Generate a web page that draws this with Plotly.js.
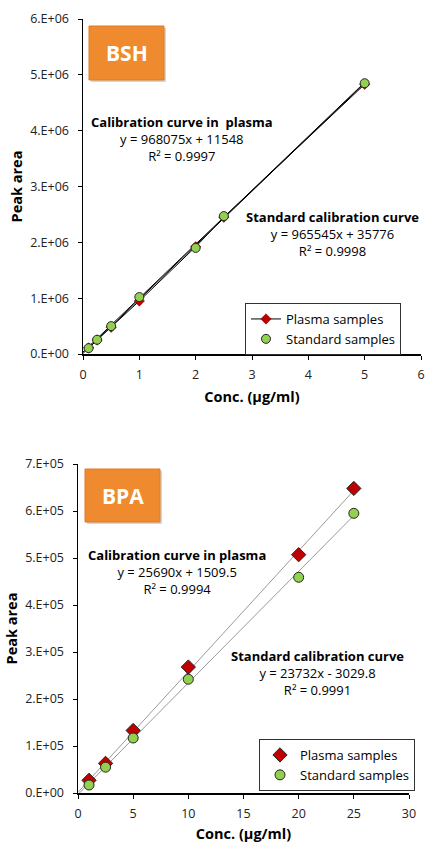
<!DOCTYPE html>
<html><head><meta charset="utf-8">
<script src="https://cdn.plot.ly/plotly-3.0.1.min.js"></script>
<style>html,body{margin:0;padding:0;background:#fff}#c{width:427px;height:843px}</style>
</head><body><div id="c"></div>
<script>
// ---- BSH data ----
const bshConc = [0.1, 0.25, 0.5, 1, 2, 2.5, 5];
const bshPlasma = [110000, 250000, 480000, 950000, 1920000, 2450000, 4830000];
const bshStandard = [105000, 255000, 500000, 1020000, 1900000, 2470000, 4850000];
const bshFitRange = [0, 5];
const bshPlasmaFit = {slope: 968075, intercept: 11548};
const bshStandardFit = {slope: 965545, intercept: 35776};
const bshYTicks = [0, 1e6, 2e6, 3e6, 4e6, 5e6, 6e6];
const bshYTickText = ['0.E+00','1.E+06','2.E+06','3.E+06','4.E+06','5.E+06','6.E+06'];
const bshXTicks = [0,1,2,3,4,5,6];

// ---- BPA data ----
const bpaConc = [1, 2.5, 5, 10, 20, 25];
const bpaPlasma = [27000, 63000, 133000, 268000, 507000, 648000];
const bpaStandard = [17000, 55000, 117000, 242000, 459000, 595000];
const bpaFitRange = [0, 25];
const bpaPlasmaFit = {slope: 25690, intercept: 1509.5};
const bpaStandardFit = {slope: 23732, intercept: -3029.8};
const bpaYTicks = [0, 1e5, 2e5, 3e5, 4e5, 5e5, 6e5, 7e5];
const bpaYTickText = ['0.E+00','1.E+05','2.E+05','3.E+05','4.E+05','5.E+05','6.E+05','7.E+05'];
const bpaXTicks = [0,5,10,15,20,25,30];

const W = 427, H = 843;
const px = x => x / W, py = y => 1 - y / H;
const FONT = 'Open Sans, Liberation Sans, sans-serif';
const fitY = (f, xs) => xs.map(x => f.slope * x + f.intercept);
const red = '#C00000', green = '#92D050', edge = '#262626';

const traces = [
  {x: bshFitRange, y: fitY(bshPlasmaFit, bshFitRange), xaxis:'x', yaxis:'y', mode:'lines', line:{color:'#000', width:1}, showlegend:false, hoverinfo:'skip'},
  {x: bshFitRange, y: fitY(bshStandardFit, bshFitRange), xaxis:'x', yaxis:'y', mode:'lines', line:{color:'#000', width:1}, showlegend:false, hoverinfo:'skip'},
  {x: bshConc, y: bshPlasma, xaxis:'x', yaxis:'y', name:'Plasma samples', mode:'lines+markers', line:{color:'#000', width:1},
   marker:{symbol:'diamond', size:8, color:red, line:{color:'#600', width:0.5}}, legend:'legend'},
  {x: bshConc, y: bshStandard, xaxis:'x', yaxis:'y', name:'Standard samples', mode:'markers',
   marker:{symbol:'circle', size:9, color:green, line:{color:edge, width:1}}, legend:'legend'},

  {x: bpaFitRange, y: fitY(bpaPlasmaFit, bpaFitRange), xaxis:'x2', yaxis:'y2', mode:'lines', line:{color:'#999', width:1}, showlegend:false, hoverinfo:'skip'},
  {x: bpaFitRange, y: fitY(bpaStandardFit, bpaFitRange), xaxis:'x2', yaxis:'y2', mode:'lines', line:{color:'#999', width:1}, showlegend:false, hoverinfo:'skip'},
  {x: bpaConc, y: bpaPlasma, xaxis:'x2', yaxis:'y2', name:'Plasma samples', mode:'markers',
   marker:{symbol:'diamond', size:11, color:red, line:{color:edge, width:1}}, legend:'legend2'},
  {x: bpaConc, y: bpaStandard, xaxis:'x2', yaxis:'y2', name:'Standard samples', mode:'markers',
   marker:{symbol:'circle', size:10, color:green, line:{color:edge, width:1}}, legend:'legend2'}
];

const axBase = {showgrid:false, zeroline:false, showline:true, linecolor:'#000', linewidth:1.5,
  ticks:'outside', ticklen:4, tickcolor:'#000', ticklabelstandoff:6,
  tickfont:{family:FONT, size:12.5, color:'#222'}, fixedrange:true};
const titleFont = {family:FONT, size:14.5, color:'#000', weight:'bold'};

const layout = {
  width: W, height: H, margin:{l:0, r:0, t:0, b:0},
  paper_bgcolor:'#fff', plot_bgcolor:'rgba(0,0,0,0)',
  xaxis: Object.assign({}, axBase, {domain:[px(83), px(421)], anchor:'y', range:[0,6], tickvals:bshXTicks, ticklabelstandoff:4,
    title:{text:'<b>Conc. (μg/ml)</b>', font:titleFont, standoff:10}}),
  yaxis: Object.assign({}, axBase, {domain:[py(354), py(19)], anchor:'x', range:[0,6e6], tickvals:bshYTicks, ticktext:bshYTickText,
    title:{text:'<b>Peak area</b>', font:titleFont, standoff:4}}),
  xaxis2: Object.assign({}, axBase, {domain:[px(78), px(409)], anchor:'y2', range:[0,30], tickvals:bpaXTicks, ticklabelstandoff:4,
    title:{text:'<b>Conc. (μg/ml)</b>', font:titleFont, standoff:10}}),
  yaxis2: Object.assign({}, axBase, {domain:[py(793), py(464)], anchor:'x2', range:[0,7e5], tickvals:bpaYTicks, ticktext:bpaYTickText,
    title:{text:'<b>Peak area</b>', font:titleFont, standoff:4}}),
  legend: {x:px(245), y:py(303), xanchor:'left', yanchor:'top', bordercolor:'#333', borderwidth:1, bgcolor:'#fff',
    font:{family:FONT, size:13, color:'#000'}, tracegroupgap:0, itemwidth:30},
  legend2: {x:px(259), y:py(739), xanchor:'left', yanchor:'top', bordercolor:'#333', borderwidth:1, bgcolor:'#fff',
    font:{family:FONT, size:13, color:'#000'}, tracegroupgap:0, itemwidth:30},
  shapes: [
    {type:'rect', xref:'paper', yref:'paper', x0:px(91), x1:px(166), y0:py(82), y1:py(28), fillcolor:'#bbb', line:{width:0}, opacity:0.6},
    {type:'rect', xref:'paper', yref:'paper', x0:px(89), x1:px(164), y0:py(80), y1:py(26), fillcolor:'#F08A2E', line:{color:'#E07A20', width:1}},
    {type:'rect', xref:'paper', yref:'paper', x0:px(87), x1:px(162), y0:py(524), y1:py(471), fillcolor:'#bbb', line:{width:0}, opacity:0.6},
    {type:'rect', xref:'paper', yref:'paper', x0:px(85), x1:px(160), y0:py(522), y1:py(469), fillcolor:'#F08A2E', line:{color:'#E07A20', width:1}}
  ],
  annotations: [
    {xref:'paper', yref:'paper', x:px(126.5), y:py(53), xanchor:'center', yanchor:'middle', text:'<b>BSH</b>', showarrow:false, font:{family:FONT, size:21, color:'#fff'}},
    {xref:'paper', yref:'paper', x:px(122.5), y:py(496), xanchor:'center', yanchor:'middle', text:'<b>BPA</b>', showarrow:false, font:{family:FONT, size:21, color:'#fff'}},
    {xref:'paper', yref:'paper', x:px(182), y:py(139), xanchor:'center', yanchor:'middle', text:'<b>Calibration curve in  plasma</b><br>y = 968075x + 11548<br>R² = 0.9997', showarrow:false, align:'center', font:{family:FONT, size:13, color:'#000'}},
    {xref:'paper', yref:'paper', x:px(332), y:py(234), xanchor:'center', yanchor:'middle', text:'<b>Standard calibration curve</b><br>y = 965545x + 35776<br>R² = 0.9998', showarrow:false, align:'center', font:{family:FONT, size:13, color:'#000'}},
    {xref:'paper', yref:'paper', x:px(177), y:py(572), xanchor:'center', yanchor:'middle', text:'<b>Calibration curve in plasma</b><br>y = 25690x + 1509.5<br>R² = 0.9994', showarrow:false, align:'center', font:{family:FONT, size:13, color:'#000'}},
    {xref:'paper', yref:'paper', x:px(317), y:py(673), xanchor:'center', yanchor:'middle', text:'<b>Standard calibration curve</b><br>y = 23732x - 3029.8<br>R² = 0.9991', showarrow:false, align:'center', font:{family:FONT, size:13, color:'#000'}}
  ]
};

Plotly.newPlot('c', traces, layout, {displayModeBar:false, staticPlot:true});
</script></body></html>
